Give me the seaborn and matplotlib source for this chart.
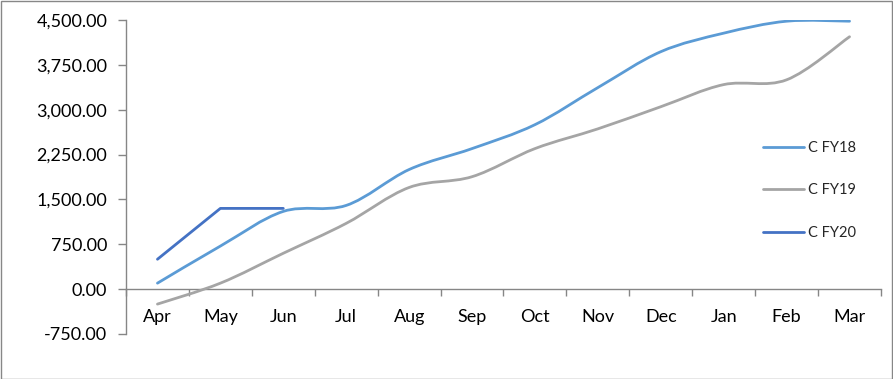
import numpy as np
import pandas as pd
import seaborn as sns
import matplotlib
matplotlib.use("Agg")
import matplotlib.pyplot as plt
from matplotlib.path import Path
from matplotlib.patches import PathPatch, Rectangle
from matplotlib.lines import Line2D
from matplotlib.ticker import FuncFormatter, FixedLocator

months = ["Apr", "May", "Jun", "Jul", "Aug", "Sep", "Oct", "Nov", "Dec", "Jan", "Feb", "Mar"]
fy18 = [100, 720, 1300, 1400, 2000, 2350, 2750, 3370, 3970, 4280, 4480, 4480]
fy19 = [-250, 100, 600, 1100, 1700, 1880, 2350, 2680, 3050, 3420, 3500, 4220]
fy20 = [500, 1350, 1350]
series_names = ["C FY18", "C FY19", "C FY20"]
y_ticks = [-750, 0, 750, 1500, 2250, 3000, 3750, 4500]

colors = {"C FY18": "#5B9BD5", "C FY19": "#A5A5A5", "C FY20": "#4472C4"}

sns.set_style("white")
plt.rcParams["font.family"] = ["Lato", "DejaVu Sans"]

fig = plt.figure(figsize=(8.93, 3.79), dpi=100)
ax = fig.add_axes([126 / 893, 1 - 334 / 379, (881 - 126) / 893, (334 - 20) / 379])

LW = 2.0


def smooth_path(xs, ys):
    pts = np.column_stack([xs, ys]).astype(float)
    n = len(pts)
    verts = [pts[0]]
    codes = [Path.MOVETO]
    for i in range(n - 1):
        p0 = pts[i - 1] if i > 0 else pts[i]
        p1 = pts[i]
        p2 = pts[i + 1]
        p3 = pts[i + 2] if i + 2 < n else pts[i + 1]
        c1 = p1 + (p2 - p0) / 6.0
        c2 = p2 - (p3 - p1) / 6.0
        verts += [c1, c2, p2]
        codes += [Path.CURVE4] * 3
    return Path(verts, codes)


x_idx = np.arange(len(months))
for name, vals in [("C FY18", fy18), ("C FY19", fy19)]:
    patch = PathPatch(smooth_path(x_idx, vals), facecolor="none",
                      edgecolor=colors[name], lw=LW, capstyle="round", zorder=3)
    ax.add_patch(patch)

df20 = pd.DataFrame({"x": x_idx[:len(fy20)], "y": fy20})
sns.lineplot(data=df20, x="x", y="y", ax=ax, color=colors["C FY20"], lw=LW,
             legend=False, zorder=4)

ax.set_xlim(-0.5, len(months) - 0.5)
ax.set_ylim(-750, 4500)
ax.set_xlabel("")
ax.set_ylabel("")

for s in ["top", "right"]:
    ax.spines[s].set_visible(False)
ax.spines["bottom"].set_position(("data", 0))
ax.spines["bottom"].set_color("#868686")
ax.spines["left"].set_color("#868686")
ax.spines["bottom"].set_linewidth(1)
ax.spines["left"].set_linewidth(1)

ax.yaxis.set_major_locator(FixedLocator(y_ticks))
ax.yaxis.set_major_formatter(FuncFormatter(lambda v, p: f"{v:,.2f}"))
ax.tick_params(axis="y", which="major", direction="out", length=5.5, width=1,
               color="#868686", labelsize=13, labelcolor="#000000", pad=8, left=True)

ax.xaxis.set_major_locator(FixedLocator(list(x_idx)))
ax.set_xticklabels(months)
ax.xaxis.set_minor_locator(FixedLocator(list(np.arange(-0.5, len(months), 1.0))))
ax.tick_params(axis="x", which="major", length=0, labelsize=13, labelcolor="#000000",
               pad=14, bottom=True)
ax.tick_params(axis="x", which="minor", direction="out", length=5, width=1,
               color="#868686", bottom=True)
ax.grid(False)

handles = [Line2D([0], [0], color=colors[n], lw=LW) for n in series_names]
fig.legend(handles, series_names, loc="center left",
           bbox_to_anchor=(763 / 893, 1 - 190.5 / 379), bbox_transform=fig.transFigure,
           frameon=False, fontsize=10.5, handlelength=2.8, handletextpad=0.28,
           labelspacing=1.95, borderpad=0, borderaxespad=0)

fig.patches.append(Rectangle((0.5 / 893, 0.5 / 379), 1 - 1.5 / 893, 1 - 1.5 / 379,
                             transform=fig.transFigure, fill=False,
                             edgecolor="#878787", lw=1))

fig.savefig("out.png", dpi=100)
